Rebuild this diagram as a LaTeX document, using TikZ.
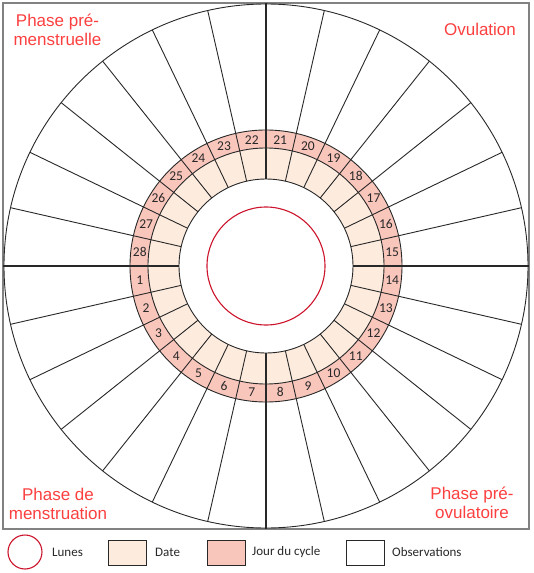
\documentclass[tikz,border=0pt]{standalone}
\usepackage{fontspec}
\setmainfont{Liberation Sans}
\newfontfamily\calfont{Carlito}
\definecolor{peach}{RGB}{253,235,222}
\definecolor{pinkring}{RGB}{249,198,188}
\definecolor{phasered}{RGB}{252,64,64}
\definecolor{moonred}{RGB}{205,20,45}
\definecolor{linedark}{RGB}{40,40,40}
\definecolor{framegray}{RGB}{130,130,130}
\begin{document}
\begin{tikzpicture}[x=1pt,y=1pt,
  ringline/.style={draw=linedark,line width=0.9pt},
  crossline/.style={draw=linedark,line width=2pt},
  numtext/.style={font=\calfont\fontsize{13.5}{15}\selectfont,text=linedark,inner sep=0pt},
  phasetext/.style={font=\fontsize{17}{19.5}\selectfont,text=phasered,inner sep=0pt,anchor=base},
  legendtext/.style={font=\calfont\fontsize{13}{15}\selectfont,text=linedark,inner sep=0pt,anchor=west},
  legendbox/.style={draw=linedark,line width=0.9pt,minimum width=38pt,minimum height=25pt,inner sep=0pt}]
\useasboundingbox (-266,-307) rectangle (268,266);
\fill[white] (-266,-307) rectangle (268,266);
% frame
\draw[framegray,line width=1.5pt] (-263,-263) rectangle (263,263);
% rings
\fill[pinkring] (0,0) circle (136);
\fill[peach] (0,0) circle (118);
\fill[white] (0,0) circle (87);
\foreach \k in {1,2,3,4,5,6,8,9,10,11,12,13,15,16,17,18,19,20,22,23,24,25,26,27}
  \draw[ringline] ({\k*360/28}:87) -- ({\k*360/28}:262);
\draw[ringline] (0,0) circle (262);
\draw[ringline] (0,0) circle (136);
\draw[ringline] (0,0) circle (118);
\draw[ringline] (0,0) circle (87);
% cross
\coordinate (ctop) at (0,263);
\coordinate (cbot) at (0,-263);
\coordinate (cleft) at (-263,0);
\coordinate (cright) at (263,0);
\draw[crossline] (ctop) -- (0,87);
\draw[crossline] (cbot) -- (0,-87);
\draw[crossline] (cleft) -- (-87,0);
\draw[crossline] (cright) -- (87,0);
% moon circle
\draw[moonred,line width=1.1pt] (0,0) circle (59);
% day numbers
\foreach \k in {1,...,28}
  \node[numtext] (n\k) at ({180+(\k-0.5)*360/28}:127) {\k};
% phase labels
\node[phasetext] (tl1) at (-208.5,239) {Phase pré-};
\node[phasetext] (tl2) at (-208.5,220) {menstruelle};
\node[phasetext] (tr1) at (214,230) {Ovulation};
\node[phasetext] (bl1) at (-208,-234) {Phase de};
\node[phasetext] (bl2) at (-208,-253) {menstruation};
\node[phasetext] (br1) at (206,-233) {Phase pré-};
\node[phasetext] (br2) at (206,-252) {ovulatoire};
% legend
\node[draw=moonred,line width=1.1pt,circle,minimum size=34pt,inner sep=0pt] (lune) at (-241,-286) {};
\node[legendtext] (lunet) at (-214,-286) {Lunes};
\node[legendbox,fill=peach] (dateb) at (-139,-286.5) {};
\node[legendtext] (datet) at (-111,-286) {Date};
\node[legendbox,fill=pinkring] (jourb) at (-40,-286.5) {};
\node[legendtext] (jourt) at (-14,-286) {Jour du cycle};
\node[legendbox,fill=white] (obsb) at (99,-286.5) {};
\node[legendtext] (obst) at (126,-286) {Observations};
\end{tikzpicture}
\end{document}
